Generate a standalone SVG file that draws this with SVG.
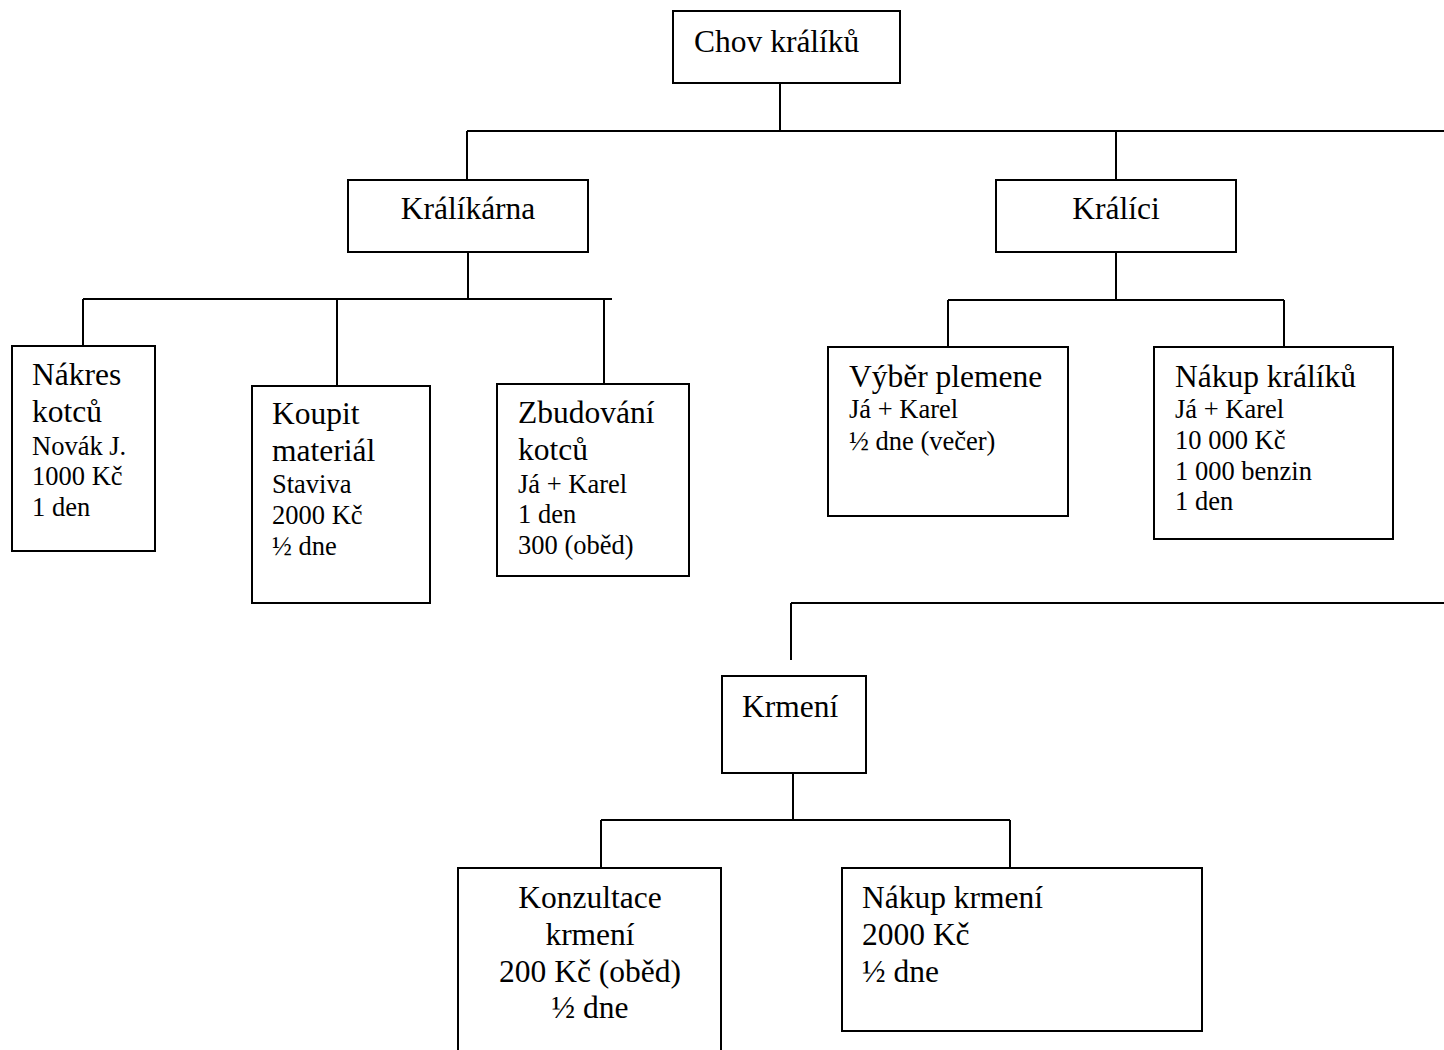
<svg xmlns="http://www.w3.org/2000/svg" width="1444" height="1050" viewBox="0 0 1444 1050" font-family="'Liberation Serif', Tinos, 'Times New Roman', 'DejaVu Serif', serif">
  <style>
    .box { fill: #ffffff; stroke: #000000; stroke-width: 2; }
    .edge { fill: none; stroke: #000000; stroke-width: 2; }
    text { font-family: 'Liberation Serif', Tinos, 'Times New Roman', 'DejaVu Serif', serif; fill: #000000; }
    .big { font-size: 31.5px; }
    .small { font-size: 26.5px; }
    .mid { text-anchor: middle; }
  </style>
  <rect x="0" y="0" width="1444" height="1050" fill="#ffffff"/>

  <!-- connectors -->
  <g id="connectors">
    <path class="edge" d="M780 83 V131 M467 131 H1444 M467 131 V180 M1116 131 V180"/>
    <path class="edge" d="M468 252 V299 M83 299 H612 M83 299 V346 M337 299 V386 M604 299 V384"/>
    <path class="edge" d="M1116 252 V300 M948 300 H1284 M948 300 V346 M1284 300 V346"/>
    <path class="edge" d="M791 603 H1444 M791 603 V660"/>
    <path class="edge" d="M793 773 V820 M601 820 H1010 M601 820 V868 M1010 820 V868"/>
  </g>

  <g id="chov">
    <rect class="box" x="673" y="11" width="227" height="72"/>
    <text class="big" x="694" y="52">Chov králíků</text>
  </g>

  <g id="kralikarna">
    <rect class="box" x="348" y="180" width="240" height="72"/>
    <text class="big mid" x="468" y="219">Králíkárna</text>
  </g>

  <g id="kralici">
    <rect class="box" x="996" y="180" width="240" height="72"/>
    <text class="big mid" x="1116" y="219">Králíci</text>
  </g>

  <g id="nakres">
    <rect class="box" x="12" y="346" width="143" height="205"/>
    <text class="big" x="32" y="385">Nákres</text>
    <text class="big" x="32" y="422">kotců</text>
    <text class="small" x="32" y="455">Novák J.</text>
    <text class="small" x="32" y="485">1000 Kč</text>
    <text class="small" x="32" y="516">1 den</text>
  </g>

  <g id="koupit">
    <rect class="box" x="252" y="386" width="178" height="217"/>
    <text class="big" x="272" y="424">Koupit</text>
    <text class="big" x="272" y="461">materiál</text>
    <text class="small" x="272" y="493">Staviva</text>
    <text class="small" x="272" y="524">2000 Kč</text>
    <text class="small" x="272" y="555">½ dne</text>
  </g>

  <g id="zbudovani">
    <rect class="box" x="497" y="384" width="192" height="192"/>
    <text class="big" x="518" y="423">Zbudování</text>
    <text class="big" x="518" y="460">kotců</text>
    <text class="small" x="518" y="493">Já + Karel</text>
    <text class="small" x="518" y="523">1 den</text>
    <text class="small" x="518" y="554">300 (oběd)</text>
  </g>

  <g id="vyber">
    <rect class="box" x="828" y="347" width="240" height="169"/>
    <text class="big" x="849" y="387">Výběr plemene</text>
    <text class="small" x="849" y="418">Já + Karel</text>
    <text class="small" x="849" y="450">½ dne (večer)</text>
  </g>

  <g id="nakup-kraliku">
    <rect class="box" x="1154" y="347" width="239" height="192"/>
    <text class="big" x="1175" y="387">Nákup králíků</text>
    <text class="small" x="1175" y="418">Já + Karel</text>
    <text class="small" x="1175" y="449">10 000 Kč</text>
    <text class="small" x="1175" y="480">1 000 benzin</text>
    <text class="small" x="1175" y="510">1 den</text>
  </g>

  <g id="krmeni">
    <rect class="box" x="722" y="676" width="144" height="97"/>
    <text class="big" x="742" y="717">Krmení</text>
  </g>

  <g id="konzultace">
    <path class="box" d="M458 1052 V868 H721 V1052"/>
    <text class="big mid" x="590" y="908">Konzultace</text>
    <text class="big mid" x="590" y="945">krmení</text>
    <text class="big mid" x="590" y="982">200 Kč (oběd)</text>
    <text class="big mid" x="590" y="1018">½ dne</text>
  </g>

  <g id="nakup-krmeni">
    <rect class="box" x="842" y="868" width="360" height="163"/>
    <text class="big" x="862" y="908">Nákup krmení</text>
    <text class="big" x="862" y="945">2000 Kč</text>
    <text class="big" x="862" y="982">½ dne</text>
  </g>
</svg>
